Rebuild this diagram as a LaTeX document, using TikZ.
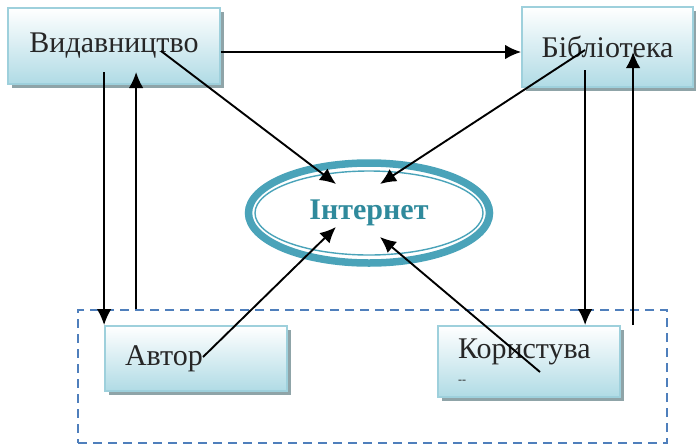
\documentclass[tikz,border=0pt]{standalone}
\usepackage{fontspec}
\setmainfont{Liberation Serif}
\usetikzlibrary{arrows.meta}
\usetikzlibrary{shapes.geometric,shadows}

\definecolor{boxedge}{HTML}{9ED0DC}
\definecolor{boxbot}{HTML}{B0DBE5}
\definecolor{boxshade}{HTML}{8FA4A8}
\definecolor{ringblue}{HTML}{4AA3B9}
\definecolor{nettext}{HTML}{2F8A9C}
\definecolor{framedash}{HTML}{4F7FBC}

\tikzset{
 unit/.style={draw=boxedge, line width=1.8pt, top color=white, bottom color=boxbot,
  drop shadow={shadow xshift=3.5pt, shadow yshift=-3.5pt, fill=boxshade, opacity=1},
  font=\fontsize{30}{33}\selectfont, text=black!85, inner sep=0pt},
 arr/.style={black, line width=1.9pt, -{Latex[length=16pt,width=14.5pt]}}
}

\begin{document}
\begin{tikzpicture}[x=1pt,y=-1pt]
\useasboundingbox (0,0) rectangle (696,445);
% dashed group round the two lower boxes
\node[draw=framedash, line width=1.8pt, dash pattern=on 9pt off 6pt,
 minimum width=589pt, minimum height=133pt] (grp) at (372.5,376.5) {};

\node[unit, minimum width=212pt, minimum height=76pt] (vyd) at (114,46) {Видавництво};
\node[unit, minimum width=171pt, minimum height=80pt] (bib) at (607.5,47) {Бібліотека};
\node[unit, minimum width=182pt, minimum height=65pt, text width=142pt, align=left] (avt) at (196,358.5) {Автор};
\node[unit, minimum width=182pt, minimum height=71pt, text width=142pt, align=left] (kor) at (529,361.5)
 {Користува\\[-8pt]{\fontsize{12}{12}\selectfont -{}-}};

% Internet ring
\node[ellipse, draw=ringblue, line width=7.5pt, minimum width=241pt, minimum height=100pt,
 font=\bfseries\fontsize{30}{33}\selectfont, text=nettext] (net) at (369,213) {Інтернет};
\draw[ringblue, line width=1.4pt] (net.center) ellipse [x radius=114pt, y radius=42pt];

\coordinate (vydin) at (161,51);
\coordinate (bibin) at (585,50);
\coordinate (avtin) at (203,357);
\coordinate (korin) at (540,372);
\coordinate (vydlo) at (0,72);
\coordinate (biblo) at (0,70);

\draw[arr] ([yshift=-6pt]vyd.east) -- ([yshift=-6pt]vyd.east -| bib.west);
\draw[arr] (vydin) -- (336,184);
\draw[arr] (bibin) -- (380,184);
\draw[arr] (avtin) -- (336,227);
\draw[arr] (korin) -- (380,237);

% links down the sides
\draw[arr] (avt.north west |- vydlo) -- (avt.north west);
\draw[arr] ([xshift=32pt]avt.north west |- grp.north) -- ([xshift=32pt]avt.north west |- vydlo);
\draw[arr] ([xshift=148pt]kor.north west |- biblo) -- ([xshift=148pt]kor.north west);
\draw[arr] ([xshift=196pt]kor.north west) -- ([xshift=196pt, yshift=18pt]kor.north west |- biblo);
\end{tikzpicture}
\end{document}
